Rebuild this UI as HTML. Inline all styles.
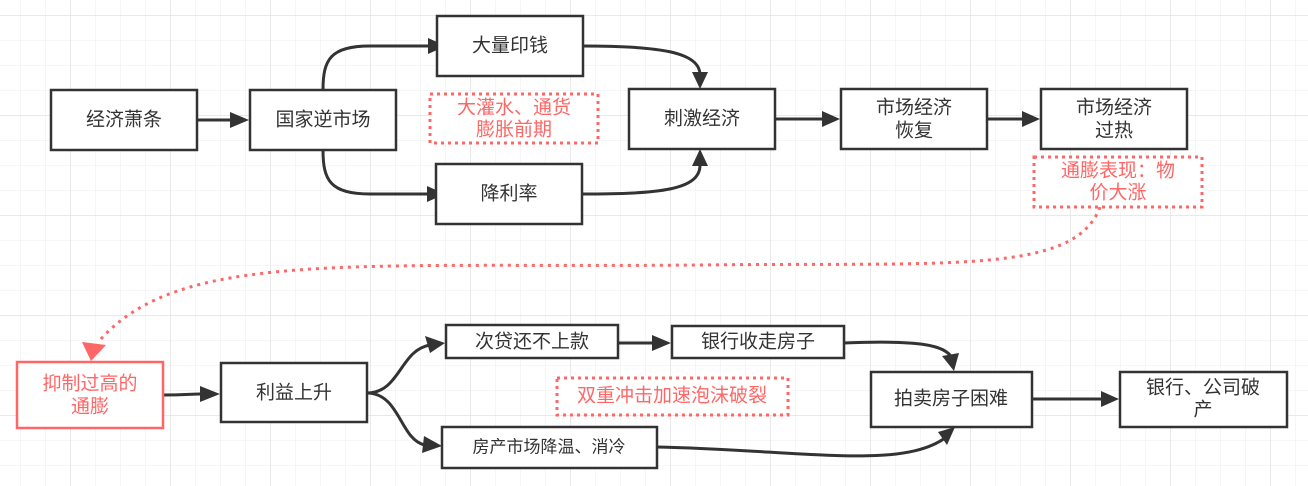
<!DOCTYPE html>
<html><head><meta charset="utf-8"><style>
html,body{margin:0;padding:0;background:#fff}
svg{display:block}
text{font-family:"Liberation Sans","Noto Sans CJK SC",sans-serif;font-size:19px;fill:#333;text-anchor:middle;dominant-baseline:central}
.r{fill:#ff6666}
.b{fill:#fff;stroke:#333;stroke-width:2.5}
.d{fill:#fff;stroke:#ff6666;stroke-width:3;stroke-dasharray:3 4}
.c{fill:none;stroke:#333;stroke-width:3}
</style></head><body>
<svg width="1308" height="486" viewBox="0 0 1308 486">
<defs>
<pattern id="g" width="25" height="25" patternUnits="userSpaceOnUse" x="-4" y="-9">
<path d="M25 0V25M0 25H25" fill="none" stroke="#ececec" stroke-width="1"/></pattern>
<pattern id="G" width="100" height="100" patternUnits="userSpaceOnUse" x="-29" y="-84">
<path d="M100 0V100M0 100H100" fill="none" stroke="#e2e2e2" stroke-width="1.5"/></pattern>
</defs>
<rect width="1308" height="486" fill="url(#g)"/>
<rect width="1308" height="486" fill="url(#G)"/>
<!-- connectors -->
<path class="c" d="M197 120H232"/><path d="M230 112L249 120L230 128z" fill="#333"/>
<path class="c" d="M323 90C323 60 330 46 370 46H428"/>
<path d="M428 38L446 46L428 54z" fill="#333"/>
<path class="c" d="M323 150C323 180 330 194 370 194H427"/>
<path d="M427 186L445 194L427 202z" fill="#333"/>
<path class="c" d="M583 46C660 46 700 52 700 75"/>
<path d="M692 72L700 89L708 72z" fill="#333"/>
<path class="c" d="M582 194C660 194 700 190 700 165"/>
<path d="M692 166L700 149L708 166z" fill="#333"/>
<path class="c" d="M775 119H822"/><path d="M822 111L840 119L822 127z" fill="#333"/>
<path class="c" d="M987 119H1022"/><path d="M1022 111L1040 119L1022 127z" fill="#333"/>
<path d="M1100 207C1075 275 950 262 700 265C350 268 180 250 100 340" fill="none" stroke="#ff6666" stroke-width="3" stroke-dasharray="3 5"/>
<path d="M82 342L91 361L106 345z" fill="#ff6666"/>
<path class="c" d="M163 395C185 395 190 394 200 394"/><path d="M200 386L220 394L200 402z" fill="#333"/>
<path class="c" d="M367 393C400 393 400 350 430 345"/><path d="M425 336L445 343L430 353z" fill="#333"/>
<path class="c" d="M367 393C400 393 400 440 425 445"/><path d="M424 436L442 446L422 453z" fill="#333"/>
<path class="c" d="M618 343H652"/><path d="M652 335L671 343L652 351z" fill="#333"/>
<path class="c" d="M844 343C920 340 945 345 952 358"/><path d="M942 356L954 371L959 353z" fill="#333"/>
<path class="c" d="M657 447C800 450 900 470 945 438"/><path d="M938 432L955 427L947 445z" fill="#333"/>
<path class="c" d="M1032 399H1101"/><path d="M1101 391L1119 399L1101 407z" fill="#333"/>
<!-- boxes -->
<rect class="b" x="51" y="90" width="146" height="60"/><text x="124" y="120">经济萧条</text>
<rect class="b" x="250" y="90" width="146" height="60"/><text x="323" y="120">国家逆市场</text>
<rect class="b" x="437" y="16" width="146" height="60"/><text x="510" y="46">大量印钱</text>
<rect class="d" x="430" y="94" width="168" height="49"/><text class="r" x="514" y="108">大灌水、通货</text><text class="r" x="514" y="130">膨胀前期</text>
<rect class="b" x="436" y="164" width="146" height="60"/><text x="509" y="194">降利率</text>
<rect class="b" x="629" y="89" width="146" height="60"/><text x="702" y="119">刺激经济</text>
<rect class="b" x="841" y="89" width="146" height="60"/><text x="914" y="108">市场经济</text><text x="914" y="131">恢复</text>
<rect class="b" x="1041" y="89" width="146" height="60"/><text x="1114" y="108">市场经济</text><text x="1114" y="131">过热</text>
<rect class="d" x="1034" y="157" width="168" height="50"/><text class="r" x="1118" y="171">通膨表现：物</text><text class="r" x="1118" y="193">价大涨</text>
<rect x="17" y="362" width="146" height="66" fill="#fff" stroke="#ff6666" stroke-width="2.5"/><text class="r" x="90" y="384">抑制过高的</text><text class="r" x="90" y="407">通膨</text>
<rect class="b" x="221" y="363" width="146" height="59"/><text x="294" y="393">利益上升</text>
<rect class="b" x="446" y="325" width="172" height="33"/><text x="532" y="342">次贷还不上款</text>
<rect class="b" x="672" y="326" width="172" height="32"/><text x="758" y="342">银行收走房子</text>
<rect class="d" x="557" y="378" width="231" height="37"/><text class="r" x="672" y="396">双重冲击加速泡沫破裂</text>
<rect class="b" x="442" y="427" width="215" height="41"/><text x="549" y="447" style="font-size:17px">房产市场降温、消冷</text>
<rect class="b" x="871" y="372" width="161" height="55"/><text x="951" y="399">拍卖房子困难</text>
<rect class="b" x="1120" y="372" width="167" height="55"/><text x="1203" y="388">银行、公司破</text><text x="1203" y="410">产</text>
</svg>
</body></html>
